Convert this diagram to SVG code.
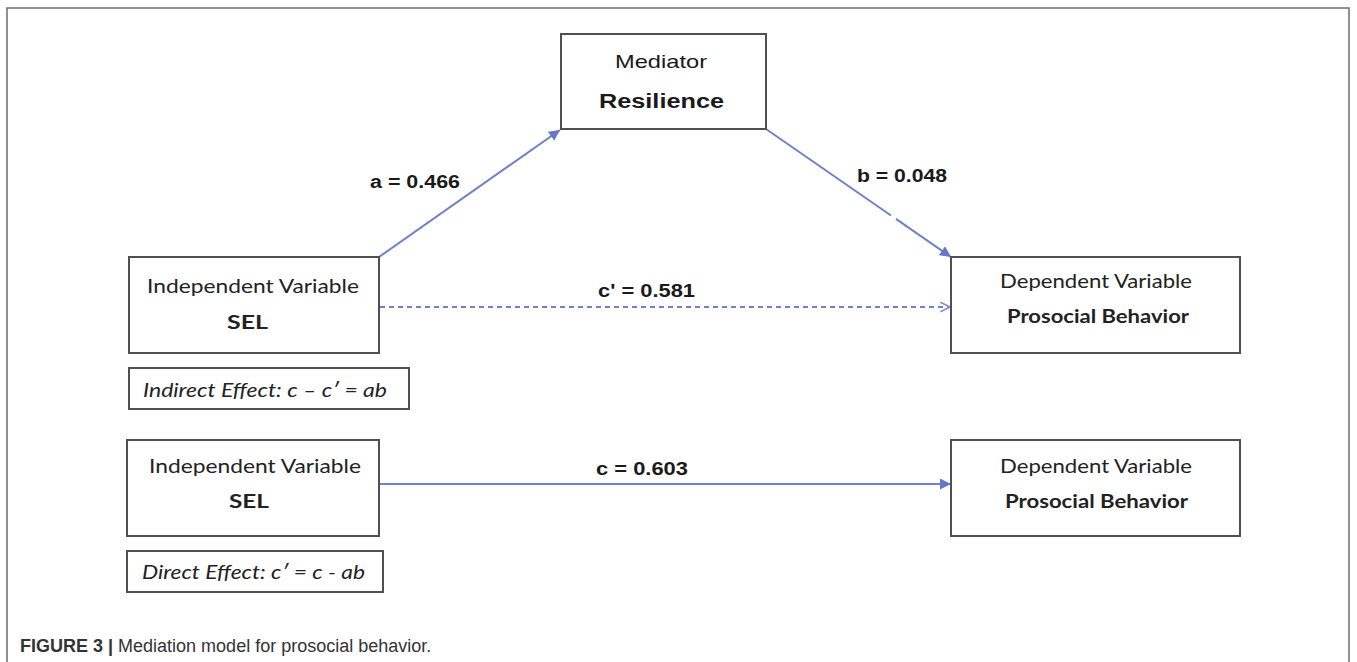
<svg xmlns="http://www.w3.org/2000/svg" width="1357" height="662" viewBox="0 0 1357 662">
<style>
.box{fill:#fff;stroke:#505050;stroke-width:2}
.frame{fill:none;stroke:#6e6e6e;stroke-width:1.5}
.t{font-family:"Lato","Open Sans",sans-serif;font-size:19px;fill:#222;text-anchor:start}
.tb{font-family:"Lato","Open Sans",sans-serif;font-size:19px;font-weight:bold;fill:#222}
.ti{font-family:"Lato","Open Sans",sans-serif;font-size:19px;font-style:italic;fill:#222}
.lab{font-family:"Liberation Sans",Arial,sans-serif;font-size:18px;font-weight:bold;fill:#1a1a1a}
.med{font-family:"Liberation Sans",Arial,sans-serif;font-size:19px;fill:#1a1a1a}
.cap{font-family:"Liberation Sans",Arial,sans-serif;font-size:18px;fill:#333}
.ln{fill:none;stroke:#7080cc;stroke-width:2}
</style>
<defs>
<marker id="fill" viewBox="0 0 10 10" refX="10" refY="5" markerWidth="11" markerHeight="11" markerUnits="userSpaceOnUse" orient="auto">
<path d="M0,0 L10,5 L0,10 z" fill="#6676c8"/>
</marker>
<marker id="open" viewBox="0 0 10 10" refX="9" refY="5" markerWidth="12" markerHeight="12" markerUnits="userSpaceOnUse" orient="auto">
<path d="M1,1 L9,5 L1,9" fill="none" stroke="#8590d4" stroke-width="1.5"/>
</marker>
</defs>
<rect width="1357" height="662" fill="#fff"/>
<path class="frame" d="M7,662 V8 H1349 V662"/>

<g id="connectors">
<line class="ln" x1="379" y1="257" x2="560" y2="130" marker-end="url(#fill)"/>
<text class="lab" x="370" y="188" textLength="90" lengthAdjust="spacingAndGlyphs">a = 0.466</text>
<line class="ln" x1="766" y1="129" x2="951" y2="257" stroke-dasharray="152 6 300" marker-end="url(#fill)"/>
<text class="lab" x="857" y="182" textLength="90" lengthAdjust="spacingAndGlyphs">b = 0.048</text>
<line class="ln" x1="380" y1="307" x2="950" y2="307" stroke="#8590d4" stroke-width="1.6" stroke-dasharray="5 4" marker-end="url(#open)"/>
<text class="lab" x="598" y="297" textLength="97" lengthAdjust="spacingAndGlyphs">c' =  0.581</text>
<line class="ln" x1="380" y1="484" x2="951" y2="484" marker-end="url(#fill)"/>
<text class="lab" x="596" y="475" textLength="92" lengthAdjust="spacingAndGlyphs">c =  0.603</text>
</g>

<g id="mediator">
<rect class="box" x="561" y="34" width="205" height="95"/>
<text class="med" x="615" y="68" textLength="92" lengthAdjust="spacingAndGlyphs">Mediator</text>
<text class="med" x="599" y="108" style="font-weight:bold;font-size:20px" textLength="125" lengthAdjust="spacingAndGlyphs">Resilience</text>
</g>

<g id="iv1">
<rect class="box" x="129" y="257" width="250" height="96"/>
<text class="t" x="147" y="293" textLength="212" lengthAdjust="spacingAndGlyphs">Independent Variable</text>
<text class="tb" x="227" y="329" textLength="41" lengthAdjust="spacingAndGlyphs">SEL</text>
</g>

<g id="dv1">
<rect class="box" x="951" y="257" width="289" height="96"/>
<text class="t" x="1000" y="288" textLength="192" lengthAdjust="spacingAndGlyphs">Dependent Variable</text>
<text class="tb" x="1007" y="323" textLength="182" lengthAdjust="spacingAndGlyphs">Prosocial Behavior</text>
</g>

<g id="indirect">
<rect class="box" x="129" y="368" width="280" height="41"/>
<text class="ti" x="143" y="397" textLength="244" lengthAdjust="spacingAndGlyphs">Indirect Effect: c – c′ = ab</text>
</g>

<g id="iv2">
<rect class="box" x="127" y="440" width="252" height="96"/>
<text class="t" x="149" y="473" textLength="212" lengthAdjust="spacingAndGlyphs">Independent Variable</text>
<text class="tb" x="229" y="508" textLength="40" lengthAdjust="spacingAndGlyphs">SEL</text>
</g>

<g id="dv2">
<rect class="box" x="951" y="440" width="289" height="96"/>
<text class="t" x="1000" y="473" textLength="192" lengthAdjust="spacingAndGlyphs">Dependent Variable</text>
<text class="tb" x="1005" y="508" textLength="183" lengthAdjust="spacingAndGlyphs">Prosocial Behavior</text>
</g>

<g id="direct">
<rect class="box" x="127" y="551" width="256" height="41"/>
<text class="ti" x="142" y="579" textLength="223" lengthAdjust="spacingAndGlyphs">Direct Effect: c′ = c - ab</text>
</g>

<g id="caption">
<text class="cap" x="20" y="652"><tspan font-weight="bold">FIGURE 3 |</tspan> Mediation model for prosocial behavior.</text>
</g>
</svg>
